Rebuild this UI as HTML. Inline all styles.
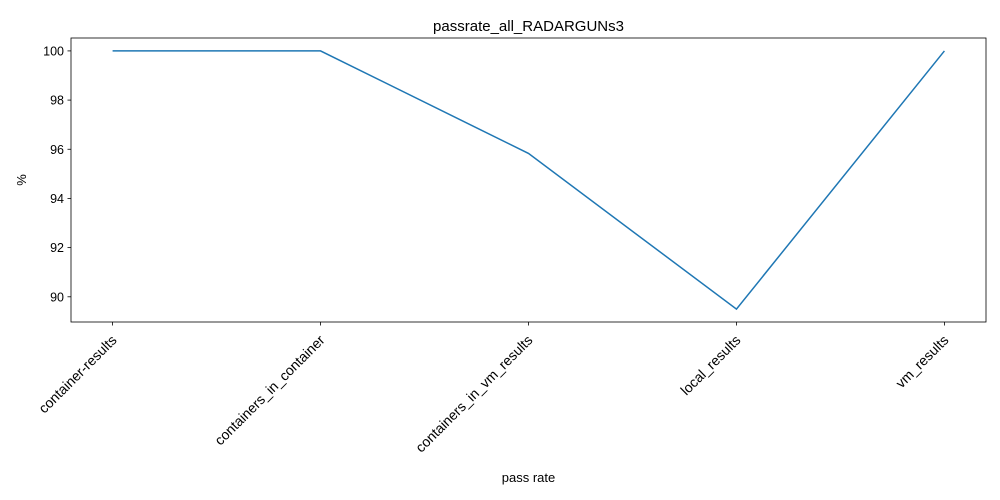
<!DOCTYPE html>
<html><head><meta charset="utf-8"><style>
body{margin:0;background:#fff;}
svg{display:block;font-family:"Liberation Sans","DejaVu Sans",sans-serif;}
</style></head><body>
<svg id="chart" width="1000" height="500">
<rect width="1000" height="500" fill="#fff"/>
<text x="528.5" y="31" font-size="15" text-anchor="middle">passrate_all_RADARGUNs3</text>
<text x="528.5" y="482" font-size="13" text-anchor="middle">pass rate</text>
<text transform="translate(26,180) rotate(-90)" font-size="13" text-anchor="middle">%</text>
<g id="plot"></g>
</svg>
<script>
const categories=["container-results","containers_in_container","containers_in_vm_results","local_results","vm_results"];
const values=[100,100,95.83,89.5,100];
const yTicks=[90,92,94,96,98,100];
const L=71,R=986,T=38,B=322;
const yMin=88.975,yMax=100.525;
const xs=i=>L+(i+0.2)/(categories.length-1+0.4)*(R-L);
const ys=v=>B-(v-yMin)/(yMax-yMin)*(B-T);
const ns="http://www.w3.org/2000/svg";
const g=document.getElementById('plot');
function mk(t,a,txt){const e=document.createElementNS(ns,t);for(const k in a)e.setAttribute(k,a[k]);if(txt!==undefined)e.textContent=txt;g.appendChild(e);return e;}
yTicks.forEach(v=>{const y=ys(v);
const t=mk('line',{x1:L-3.5,x2:L,y1:y,y2:y,stroke:'#000','stroke-width':0.8});


const l=mk('text',{x:L-7,y:y+4.5,'font-size':12.5,'text-anchor':'end'},String(v));


});
categories.forEach((c,i)=>{const x=xs(i);
const t=mk('line',{x1:x,x2:x,y1:B,y2:B+3.5,stroke:'#000','stroke-width':0.8});


const l=mk('text',{transform:`translate(${x+5},${B+19}) rotate(-45)`,'font-size':14,'text-anchor':'end'},c);


});
const p=mk('polyline',{points:values.map((v,i)=>xs(i)+','+ys(v)).join(' '),fill:'none',stroke:'#1f77b4','stroke-width':1.5});


const f=mk('rect',{x:L,y:T,width:R-L,height:B-T,fill:'none',stroke:'#000','stroke-width':0.8});


</script>
</body></html>
